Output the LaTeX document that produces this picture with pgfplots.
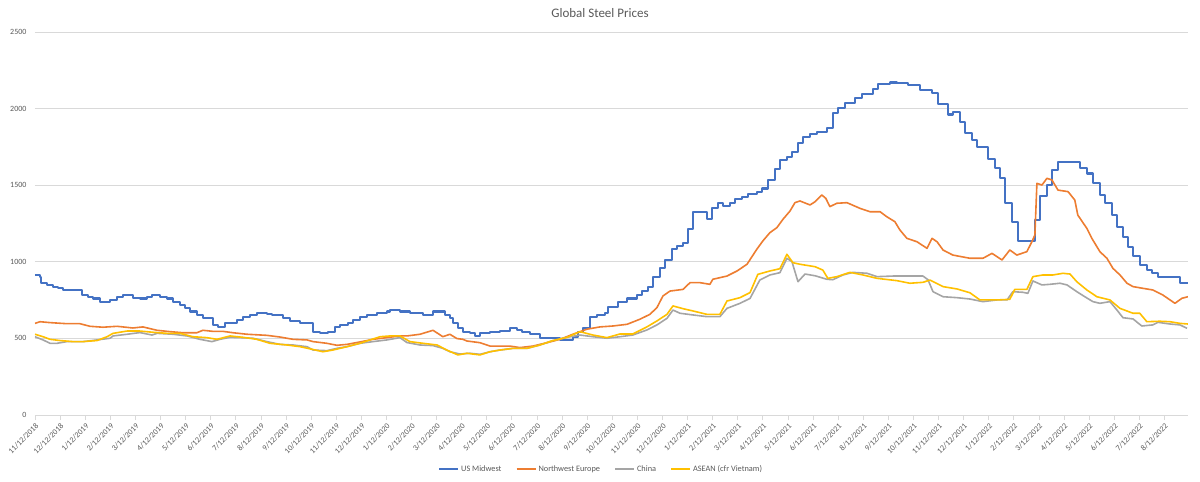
\documentclass[border=0pt]{standalone}
\usepackage{fontspec}
\setmainfont{Carlito}
\usepackage{pgfplots}
\pgfplotsset{compat=1.18}
\definecolor{usblue}{HTML}{4472C4}
\definecolor{euorange}{HTML}{ED7D31}
\definecolor{cngray}{HTML}{A5A5A5}
\definecolor{asgold}{HTML}{FFC000}
\definecolor{txtgray}{HTML}{595959}
\definecolor{gridgray}{HTML}{D9D9D9}
\begin{document}
\begin{tikzpicture}
\begin{axis}[
  scale only axis,
  width=1153pt, height=383pt,
  xmin=0, xmax=45.94, ymin=0, ymax=2500,
  ytick={0,500,1000,1500,2000,2500},
  xtick={0,...,45},
  xticklabels={11/12/2018,12/12/2018,1/12/2019,2/12/2019,3/12/2019,4/12/2019,5/12/2019,6/12/2019,7/12/2019,8/12/2019,9/12/2019,10/12/2019,11/12/2019,12/12/2019,1/12/2020,2/12/2020,3/12/2020,4/12/2020,5/12/2020,6/12/2020,7/12/2020,8/12/2020,9/12/2020,10/12/2020,11/12/2020,12/12/2020,1/12/2021,2/12/2021,3/12/2021,4/12/2021,5/12/2021,6/12/2021,7/12/2021,8/12/2021,9/12/2021,10/12/2021,11/12/2021,12/12/2021,1/12/2022,2/12/2022,3/12/2022,4/12/2022,5/12/2022,6/12/2022,7/12/2022,8/12/2022},
  x tick label style={rotate=45, anchor=north east, font=\fontsize{8}{9}\selectfont, text=txtgray, inner sep=2pt},
  y tick label style={font=\fontsize{8}{9}\selectfont, text=txtgray},
  /pgf/number format/assume math mode=true,
  /pgf/number format/1000 sep={},
  ymajorgrids, grid style={gridgray, line width=0.75pt},
  axis x line*=bottom, axis y line*=left,
  x axis line style={draw=gridgray, -},
  y axis line style={draw=none},
  ytick style={draw=none},
  xtick style={draw=gridgray, line width=0.75pt},
  tick align=outside, major tick length=5pt,
  legend columns=4,
  legend style={at={(0.491,-0.141)}, anchor=center, draw=none, fill=none,
    font=\fontsize{8.3}{10}\selectfont, text=txtgray,
    /tikz/every even column/.append style={column sep=12pt}},
  legend image code/.code={\draw[#1, line width=2pt] (0pt,0pt) -- (19pt,0pt);},
  every axis plot/.append style={line join=round, mark=none},
]
\addplot[usblue, line width=2.2pt, const plot] coordinates {
(0,914)(0.20,903)(0.24,860)(0.48,849)(0.72,838)(0.92,827)(1.12,816)(1.87,783)(2.11,772)(2.31,761)(2.59,740)(2.99,751)(3.27,772)(3.51,783)(3.90,766)(4.18,761)(4.46,772)(4.66,783)(4.98,772)(5.26,761)(5.50,740)(5.78,718)(5.98,696)(6.18,675)(6.45,653)(6.69,631)(7.09,588)(7.29,572)(7.57,598)(8.05,620)(8.29,642)(8.57,653)(8.84,664)(9.24,660)(9.44,653)(9.88,631)(10.16,616)(10.56,598)(11.08,544)(11.35,533)(11.67,544)(11.95,577)(12.15,588)(12.47,598)(12.67,620)(12.95,642)(13.23,653)(13.63,664)(14.02,675)(14.14,685)(14.54,675)(14.94,664)(15.46,653)(15.86,675)(16.33,653)(16.53,631)(16.65,598)(16.85,566)(17.05,544)(17.33,533)(17.53,516)(17.73,533)(18.13,540)(18.53,548)(18.92,566)(19.20,555)(19.40,540)(19.72,527)(20.12,505)(20.52,501)(20.92,490)(21.43,511)(21.63,544)(21.83,566)(22.11,642)(22.39,653)(22.71,664)(22.83,707)(23.23,740)(23.59,761)(23.98,783)(24.18,811)(24.42,833)(24.62,903)(24.90,957)(25.10,1012)(25.38,1082)(25.58,1103)(25.82,1125)(26.02,1212)(26.22,1327)(26.77,1280)(26.97,1349)(27.21,1382)(27.41,1364)(27.69,1382)(27.89,1410)(28.17,1425)(28.41,1440)(28.76,1458)(28.96,1479)(29.20,1534)(29.48,1606)(29.68,1664)(29.96,1682)(30.16,1719)(30.40,1777)(30.60,1816)(30.88,1834)(31.16,1849)(31.55,1871)(31.79,1969)(31.99,2006)(32.27,2034)(32.67,2067)(32.95,2093)(33.39,2128)(33.59,2160)(34.06,2171)(34.34,2165)(34.78,2154)(35.26,2121)(35.74,2104)(35.98,2030)(36.37,1962)(36.57,1980)(36.85,1915)(37.05,1839)(37.33,1795)(37.53,1751)(37.97,1669)(38.25,1610)(38.45,1545)(38.65,1382)(38.92,1262)(39.16,1138)(39.84,1273)(40.04,1429)(40.32,1501)(40.52,1599)(40.76,1653)(41.63,1610)(41.91,1577)(42.15,1512)(42.43,1436)(42.63,1382)(42.91,1305)(43.11,1229)(43.35,1164)(43.55,1099)(43.75,1038)(44.02,979)(44.30,946)(44.50,925)(44.74,903)(45.62,860)(45.94,860)
};
\addlegendentry{US Midwest}
\addplot[euorange, line width=1.6pt] coordinates {
(0,598)(0.20,609)(0.60,603)(1.27,596)(1.79,596)(2.19,579)(2.71,573)(3.27,579)(3.90,568)(4.30,575)(4.86,553)(5.38,544)(5.90,537)(6.45,537)(6.69,553)(7.09,546)(7.49,546)(7.89,537)(8.45,527)(9.24,520)(9.76,509)(10.28,494)(10.84,490)(11.08,479)(11.63,468)(12.03,455)(12.43,461)(12.95,477)(13.47,494)(14.02,505)(14.54,516)(14.82,516)(15.34,527)(15.86,553)(16.25,511)(16.53,527)(16.81,499)(17.05,494)(17.21,483)(17.73,472)(18.13,450)(18.53,450)(18.92,450)(19.32,440)(19.84,450)(20.40,472)(20.92,494)(21.43,527)(21.99,560)(22.51,575)(23.03,581)(23.59,592)(24.10,625)(24.50,657)(24.78,701)(25.02,777)(25.30,809)(25.82,820)(26.10,864)(26.49,864)(26.89,853)(27.01,886)(27.57,907)(27.97,940)(28.37,984)(28.76,1082)(29.00,1136)(29.28,1190)(29.56,1223)(29.80,1277)(30.08,1331)(30.28,1386)(30.48,1397)(30.88,1371)(31.08,1392)(31.35,1436)(31.51,1414)(31.67,1360)(31.95,1382)(32.35,1386)(32.87,1349)(33.27,1327)(33.67,1327)(33.94,1294)(34.26,1262)(34.46,1208)(34.74,1153)(35.14,1131)(35.54,1088)(35.74,1153)(35.94,1131)(36.18,1077)(36.57,1044)(37.25,1023)(37.77,1023)(38.13,1055)(38.53,1012)(38.84,1077)(39.12,1044)(39.52,1066)(39.72,1131)(39.84,1175)(39.92,1512)(40.12,1501)(40.32,1545)(40.52,1534)(40.76,1468)(41.16,1458)(41.43,1403)(41.55,1305)(41.91,1218)(42.11,1153)(42.43,1066)(42.71,1023)(42.95,957)(43.23,914)(43.51,860)(43.75,838)(44.14,827)(44.54,816)(44.94,783)(45.42,729)(45.70,762)(45.94,772)
};
\addlegendentry{Northwest Europe}
\addplot[cngray, line width=1.6pt] coordinates {
(0,511)(0.32,490)(0.60,468)(0.88,468)(1.27,479)(1.91,479)(2.47,490)(2.99,501)(3.11,516)(3.67,527)(4.18,538)(4.66,522)(4.86,533)(5.50,527)(6.06,516)(6.57,494)(7.05,479)(7.37,494)(7.77,507)(8.17,505)(8.69,501)(9.24,479)(9.76,461)(10.28,457)(10.84,446)(11.08,424)(11.63,420)(12.03,435)(12.43,446)(12.95,468)(13.47,479)(14.02,490)(14.54,505)(14.82,473)(15.34,457)(15.86,453)(16.25,435)(16.53,413)(16.93,398)(17.33,403)(17.73,396)(18.13,413)(18.53,424)(19.04,435)(19.60,435)(20.12,457)(20.64,486)(21.20,507)(21.71,522)(22.23,511)(22.79,501)(23.31,511)(23.82,522)(24.38,555)(24.78,588)(25.18,631)(25.42,685)(25.70,664)(26.22,653)(26.77,642)(27.29,642)(27.57,696)(28.09,729)(28.49,761)(28.88,881)(29.28,914)(29.68,929)(29.96,1023)(30.16,1001)(30.40,870)(30.68,920)(31.08,909)(31.55,886)(31.79,883)(32.19,914)(32.59,931)(33.15,925)(33.55,903)(34.18,907)(34.86,907)(35.38,907)(35.58,883)(35.78,805)(36.18,772)(36.73,766)(37.25,757)(37.77,740)(38.33,751)(38.73,751)(38.96,805)(39.36,801)(39.56,794)(39.76,875)(40.12,849)(40.44,853)(40.84,860)(41.12,849)(41.51,805)(41.83,772)(42.15,740)(42.43,729)(42.83,740)(43.11,685)(43.35,635)(43.75,627)(44.10,581)(44.54,588)(44.74,605)(45.22,594)(45.62,588)(45.90,566)
};
\addlegendentry{China}
\addplot[asgold, line width=1.6pt] coordinates {
(0,527)(0.32,511)(0.60,494)(1.00,486)(1.51,479)(1.91,479)(2.47,486)(2.87,511)(3.11,533)(3.67,548)(4.18,548)(4.70,540)(5.26,533)(5.78,533)(6.29,511)(6.85,505)(7.25,494)(7.77,516)(8.29,507)(8.84,494)(9.36,468)(10.04,457)(10.56,446)(11.04,429)(11.47,413)(11.87,424)(12.43,446)(12.95,468)(13.35,490)(13.75,511)(14.14,516)(14.54,516)(14.94,479)(15.46,468)(16.02,457)(16.41,424)(16.85,392)(17.21,403)(17.73,392)(18.13,413)(18.53,424)(19.04,435)(19.60,435)(20.12,457)(20.64,486)(21.20,507)(21.71,544)(22.23,522)(22.79,505)(23.31,529)(23.82,529)(24.38,575)(24.78,614)(25.18,657)(25.42,712)(25.82,694)(26.22,679)(26.77,657)(27.29,657)(27.57,744)(28.09,766)(28.49,799)(28.80,918)(29.28,940)(29.68,955)(29.96,1049)(30.20,994)(30.48,984)(31.08,968)(31.39,946)(31.59,892)(31.95,903)(32.47,931)(32.99,914)(33.55,892)(34.34,877)(34.86,860)(35.38,866)(35.66,881)(36.18,838)(36.73,823)(37.25,798)(37.65,751)(38.33,751)(38.84,755)(39.04,820)(39.52,820)(39.76,903)(40.16,914)(40.56,914)(40.96,925)(41.24,920)(41.51,870)(41.91,816)(42.31,772)(42.83,751)(43.23,696)(43.75,664)(44.02,664)(44.30,609)(44.82,612)(45.22,609)(45.62,598)(45.94,594)
};
\addlegendentry{ASEAN (cfr Vietnam)}
\end{axis}
\node[text=txtgray, font=\fontsize{13}{15}\selectfont] at (565pt,402pt) {Global Steel Prices};
\pgfresetboundingbox
\useasboundingbox (-35pt,-67pt) rectangle (1165pt,415pt);
\end{tikzpicture}
\end{document}
